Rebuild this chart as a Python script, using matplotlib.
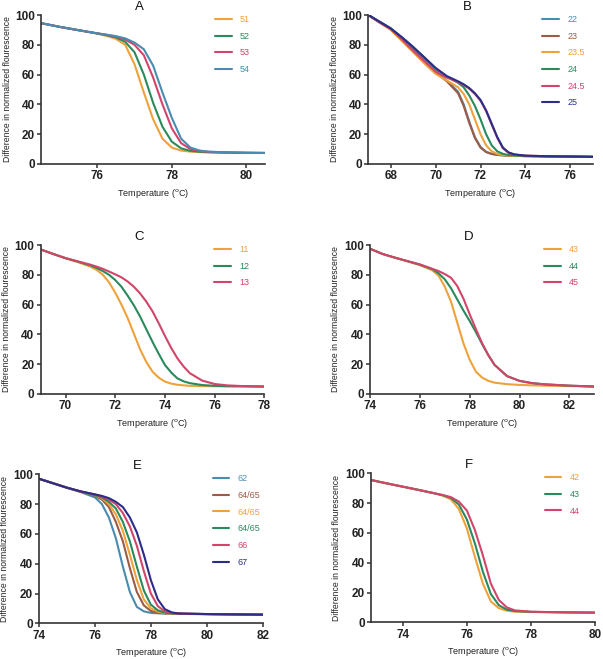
import matplotlib
matplotlib.use("Agg")
import matplotlib.pyplot as plt

plt.rcParams['font.family'] = ['Liberation Sans', 'DejaVu Sans']

# colours
ORANGE = '#EFA23A'
GREEN = '#2A8A5C'
RED = '#D2456A'
BLUE = '#4A8BB0'
BROWN = '#9C5B45'
NAVY = '#2B2D87'

# ---- panel A ----
a_temp = [74.5, 75.0, 75.5, 76.0, 76.25, 76.5, 76.75, 77.0, 77.25, 77.5, 77.75,
          78.0, 78.25, 78.5, 78.75, 79.0, 79.5, 80.0, 80.5]
a_51 = [94.5, 92.0, 89.8, 87.5, 86.0, 84.0, 80.0, 67.0, 48.0, 30.0, 17.0,
        11.0, 9.0, 8.3, 8.0, 7.8, 7.6, 7.5, 7.4]
a_52 = [94.5, 92.0, 89.8, 87.6, 86.4, 85.0, 82.0, 75.0, 60.0, 41.0, 25.0,
        15.0, 10.5, 8.8, 8.2, 7.9, 7.6, 7.5, 7.4]
a_53 = [94.5, 92.0, 89.8, 87.7, 86.7, 85.5, 83.5, 80.0, 73.0, 58.0, 40.0,
        24.0, 14.0, 10.0, 8.7, 8.1, 7.7, 7.5, 7.4]
a_54 = [94.5, 92.0, 89.8, 87.7, 86.8, 85.8, 84.3, 81.5, 77.0, 66.0, 48.0,
        31.0, 17.0, 11.0, 9.0, 8.3, 7.8, 7.5, 7.4]

# ---- panel B ----
b_temp = [67.0, 67.5, 68.0, 68.5, 69.0, 69.5, 70.0, 70.5, 71.0, 71.25, 71.5, 71.75,
          72.0, 72.25, 72.5, 72.75, 73.0, 73.25, 73.5, 74.0, 75.0, 76.0, 77.0]
b_22 = [100, 95.5, 91.0, 84.5, 77.5, 70.0, 62.5, 56.0, 48.5, 40.0, 28.5, 18.0,
        11.5, 8.2, 6.8, 6.2, 5.8, 5.6, 5.5, 5.3, 5.1, 5.0, 4.8]
b_23 = [100, 95.0, 90.5, 83.5, 76.0, 68.5, 61.5, 55.5, 47.5, 39.0, 27.5, 17.5,
        11.0, 8.0, 6.7, 6.1, 5.8, 5.6, 5.5, 5.3, 5.1, 5.0, 4.8]
b_235 = [100, 95.0, 90.0, 82.5, 75.0, 67.5, 60.5, 56.0, 51.5, 47.0, 40.0, 30.0,
         20.0, 12.5, 8.5, 6.8, 6.0, 5.7, 5.5, 5.3, 5.1, 5.0, 4.8]
b_24 = [100, 95.5, 91.0, 85.0, 78.5, 71.5, 64.0, 58.5, 54.5, 51.5, 46.0, 39.0,
        30.0, 20.0, 12.5, 8.5, 6.8, 6.0, 5.7, 5.4, 5.1, 5.0, 4.8]
b_245 = [100, 95.0, 90.5, 83.5, 76.0, 69.0, 62.0, 58.0, 55.0, 53.0, 50.5, 47.0,
         42.5, 35.5, 26.5, 17.5, 10.5, 7.5, 6.3, 5.6, 5.2, 5.0, 4.8]
b_25 = [100, 95.5, 91.0, 85.0, 78.5, 71.5, 64.5, 59.0, 55.5, 53.5, 51.0, 47.5,
        43.0, 36.0, 27.0, 18.0, 11.0, 7.8, 6.5, 5.6, 5.2, 5.0, 4.8]

# ---- panel C ----
c_temp = [69.0, 69.5, 70.0, 70.5, 71.0, 71.25, 71.5, 71.75, 72.0, 72.25, 72.5, 72.75,
          73.0, 73.25, 73.5, 73.75, 74.0, 74.25, 74.5, 74.75, 75.0, 75.5, 76.0,
          76.5, 77.0, 78.0]
c_11 = [97.0, 94.0, 91.0, 88.5, 85.5, 83.3, 80.0, 75.0, 68.0, 60.0, 51.0, 40.5,
        30.0, 21.5, 15.0, 11.0, 8.3, 7.0, 6.2, 5.8, 5.5, 5.3, 5.2,
        5.1, 5.1, 5.0]
c_12 = [97.0, 94.0, 91.2, 88.8, 86.3, 84.6, 82.5, 80.0, 76.5, 72.0, 66.0, 59.5,
        52.0, 43.5, 35.0, 27.0, 19.5, 14.5, 10.5, 8.5, 7.3, 6.0, 5.5,
        5.3, 5.2, 5.0]
c_13 = [97.0, 94.0, 91.2, 89.0, 86.8, 85.5, 84.0, 82.2, 80.3, 78.3, 75.5, 72.0,
        67.5, 62.0, 55.5, 47.5, 39.0, 31.0, 24.0, 18.5, 14.0, 9.0, 6.7,
        5.8, 5.4, 5.0]

# ---- panel D ----
d_temp = [74.0, 74.5, 75.0, 75.5, 76.0, 76.5, 76.75, 77.0, 77.25, 77.5, 77.75,
          78.0, 78.25, 78.5, 78.75, 79.0, 79.5, 80.0, 80.5, 81.0, 82.0, 83.0]
d_43 = [97.5, 94.0, 91.5, 89.0, 86.5, 83.0, 79.5, 72.0, 62.0, 48.0, 34.0,
        23.0, 15.0, 11.0, 8.8, 7.6, 6.6, 6.1, 5.8, 5.6, 5.3, 5.0]
d_44 = [97.5, 94.0, 91.5, 89.2, 86.8, 83.8, 81.0, 77.0, 71.0, 63.5, 56.0,
        49.0, 41.5, 33.5, 26.0, 19.5, 12.0, 8.8, 7.3, 6.5, 5.6, 5.0]
d_45 = [97.5, 94.0, 91.5, 89.2, 87.0, 84.0, 82.5, 80.5, 78.0, 72.5, 64.0,
        53.5, 43.5, 34.0, 26.0, 19.5, 12.0, 8.8, 7.3, 6.5, 5.6, 5.0]

# ---- panel E ----
e_temp = [74.0, 74.5, 75.0, 75.5, 76.0, 76.25, 76.5, 76.75, 77.0, 77.25, 77.5,
          77.75, 78.0, 78.25, 78.5, 78.75, 79.0, 80.0, 81.0, 82.0]
e_62 = [97.0, 94.0, 91.0, 88.0, 84.5, 80.0, 71.0, 57.0, 38.0, 21.0, 11.0,
        8.0, 7.0, 6.7, 6.5, 6.4, 6.3, 6.2, 6.0, 5.8]
e_64a = [97.0, 94.0, 91.0, 88.2, 85.5, 83.0, 78.0, 68.0, 55.0, 37.0, 21.0,
         12.0, 8.3, 7.2, 6.7, 6.5, 6.3, 6.2, 6.0, 5.8]
e_64b = [97.0, 94.0, 91.0, 88.3, 86.0, 84.0, 80.0, 73.0, 62.0, 46.0, 29.0,
         16.0, 10.0, 7.8, 6.9, 6.5, 6.3, 6.2, 6.0, 5.8]
e_64c = [97.0, 94.0, 91.0, 88.4, 86.0, 84.5, 81.5, 77.0, 68.0, 55.0, 38.0,
         22.0, 12.5, 8.7, 7.2, 6.6, 6.4, 6.2, 6.0, 5.8]
e_66 = [97.0, 94.0, 91.0, 88.5, 86.5, 85.0, 83.0, 80.0, 74.0, 65.0, 52.0,
        35.0, 20.0, 11.5, 8.0, 6.9, 6.5, 6.2, 6.0, 5.8]
e_67 = [97.0, 94.0, 91.0, 88.5, 86.5, 85.5, 84.0, 81.5, 78.0, 71.0, 61.0,
        46.0, 29.0, 16.0, 9.5, 7.3, 6.6, 6.2, 6.0, 5.8]

# ---- panel F ----
f_temp = [73.0, 73.5, 74.0, 74.5, 75.0, 75.25, 75.5, 75.75, 76.0, 76.25, 76.5,
          76.75, 77.0, 77.25, 77.5, 78.0, 79.0, 80.0]
f_42 = [95.5, 93.2, 91.0, 88.8, 86.5, 85.0, 82.5, 76.0, 63.0, 44.0, 26.0,
        14.0, 9.5, 7.8, 7.2, 6.9, 6.7, 6.5]
f_43 = [95.5, 93.2, 91.0, 88.8, 86.5, 85.2, 83.5, 79.0, 69.0, 53.0, 34.0,
        19.0, 11.5, 8.5, 7.5, 7.0, 6.7, 6.5]
f_44 = [95.5, 93.2, 91.0, 88.8, 86.5, 85.4, 84.0, 81.0, 75.0, 62.0, 45.0,
        26.0, 15.0, 10.0, 8.0, 7.1, 6.7, 6.5]

W, H = 603, 659
fig = plt.figure(figsize=(W / 100, H / 100), dpi=100)


def make_axes(left, right, top, bottom):
    return fig.add_axes([left / W, 1 - bottom / H, (right - left) / W, (bottom - top) / H])


panels = [
    ('A', (41.3, 265, 15, 164), a_temp, [a_51, a_52, a_53, a_54], ['51', '52', '53', '54'],
     [ORANGE, GREEN, RED, BLUE], (74.5, 80.5), [76, 78, 80]),
    ('B', (368.3, 592.7, 15, 164), b_temp, [b_22, b_23, b_235, b_24, b_245, b_25],
     ['22', '23', '23.5', '24', '24.5', '25'], [BLUE, BROWN, ORANGE, GREEN, RED, NAVY],
     (67, 77), [68, 70, 72, 74, 76]),
    ('C', (40.7, 264.3, 245, 394), c_temp, [c_11, c_12, c_13], ['11', '12', '13'],
     [ORANGE, GREEN, RED], (69, 78), [70, 72, 74, 76, 78]),
    ('D', (370, 594.3, 245, 394), d_temp, [d_43, d_44, d_45], ['43', '44', '45'],
     [ORANGE, GREEN, RED], (74, 83), [74, 76, 78, 80, 82]),
    ('E', (39, 262.7, 474.3, 623.3), e_temp, [e_62, e_64a, e_64b, e_64c, e_66, e_67],
     ['62', '64/65', '64/65', '64/65', '66', '67'], [BLUE, BROWN, ORANGE, GREEN, RED, NAVY],
     (74, 82), [74, 76, 78, 80, 82]),
    ('F', (371, 594.7, 473.3, 622.3), f_temp, [f_42, f_43, f_44], ['42', '43', '44'],
     [ORANGE, GREEN, RED], (73, 80), [74, 76, 78, 80]),
]

for title, box, temp, series, labels, colors, xlim, xticks in panels:
    ax = make_axes(*box)
    for ys, lab, col in zip(series, labels, colors):
        ax.plot(temp, ys, color=col, lw=1.5, label=lab, solid_capstyle='round')
    ax.set_xlim(*xlim)
    ax.set_ylim(0, 100)
    ax.set_xticks(xticks)
    ax.set_yticks([0, 20, 40, 60, 80, 100])
    for s in ['top', 'right']:
        ax.spines[s].set_visible(False)
    for s in ['left', 'bottom']:
        ax.spines[s].set_linewidth(1.2)
        ax.spines[s].set_color('#333333')
    ax.tick_params(direction='out', length=3, width=1.1, color='#333333', pad=1.5)
    for lbl in ax.get_xticklabels() + ax.get_yticklabels():
        lbl.set_fontweight('bold')
        lbl.set_fontsize(8.5)
        lbl.set_color('#222222')
    ax.set_xlabel('Temperature ($^{\\mathrm{o}}$C)', fontsize=6.5, labelpad=3.5, color='#222222')
    ax.set_ylabel('Difference in normalized flourescence', fontsize=6.2, labelpad=2.5, color='#222222')
    ax.text(0.44, 1.0 + 8 / 149, title, transform=ax.transAxes, ha='center', va='center',
            fontsize=9.5, color='#111111')
    ax.legend(loc='upper left', bbox_to_anchor=(0.776, 1.0), frameon=False, fontsize=6.5,
              handlelength=1.85, handletextpad=0.9, labelspacing=0.85, borderpad=0,
              borderaxespad=0, labelcolor='linecolor')

fig.savefig('out.png', dpi=100)
